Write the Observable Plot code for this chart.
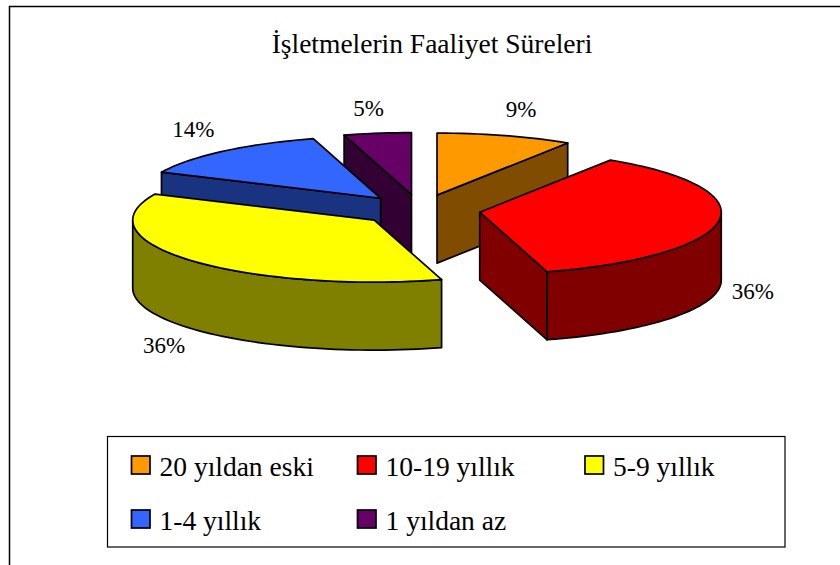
<!DOCTYPE html>
<html>
<head>
<meta charset="utf-8">
<script src="https://cdn.jsdelivr.net/npm/d3@7"></script>
<script src="https://cdn.jsdelivr.net/npm/@observablehq/plot@0.6"></script>
<style>html,body{margin:0;padding:0;background:#fff}svg{display:block}svg text{font-family:"Liberation Serif",serif !important}</style>
</head>
<body>
<div id="chart"></div>
<script>
const title = "İşletmelerin Faaliyet Süreleri";
const categories = ["20 yıldan eski", "10-19 yıllık", "5-9 yıllık", "1-4 yıllık", "1 yıldan az"];
const shares = [9.1, 36.4, 36.4, 13.6, 4.5];
const topColors = ["#ff9900", "#ff0000", "#ffff00", "#3366ff", "#660066"];
const sideColors = ["#804d00", "#800000", "#808000", "#1a3380", "#330033"];

// Layout of the projected pie, in the plot's pixel-like units
const pie = {cx: 419.5, cy: 209.5, rx: 241.5, ry: 62, depth: 68, explode: 0.25};
const drawOrder = [4, 3, 0, 2, 1];
const labelNudge = [[16, -26], [34, 70], [-27, 85], [-30, -22], [-9, -25]];
const font = "Liberation Serif";

const rad = d => d * Math.PI / 180;
const total = d3.sum(shares);
let acc = 0;
const slices = shares.map((v, i) => {
  const a0 = acc / total * 360; acc += v;
  const a1 = acc / total * 360;
  const m = rad((a0 + a1) / 2);
  return {i, v, a0, a1,
    ox: pie.cx + pie.explode * pie.rx * Math.sin(m),
    oy: pie.cy - pie.explode * pie.ry * Math.cos(m), m};
});
const rim = (s, a, drop = 0) => ({
  x: s.ox + pie.rx * Math.sin(rad(a)),
  y: s.oy - pie.ry * Math.cos(rad(a)) + drop
});
const arc = (s, a0, a1, drop = 0) => {
  const n = Math.max(2, Math.ceil((a1 - a0) / 2));
  return d3.range(n + 1).map(k => rim(s, a0 + (a1 - a0) * k / n, drop));
};
const closed = pts => [...pts, pts[0]];
const poly = (pts, fill) => Plot.line(closed(pts), {
  x: "x", y: "y", fill, stroke: "#000", strokeWidth: 1.7, strokeLinejoin: "round", curve: "linear"
});

const marks = [];
// Outer chart frame
marks.push(Plot.ruleX([9], {y1: 6, y2: 565, stroke: "#000", strokeWidth: 1.5}));
marks.push(Plot.ruleY([6], {x1: 9, x2: 840, stroke: "#000", strokeWidth: 1.5}));

for (const idx of drawOrder) {
  const s = slices[idx];
  const apex = {x: s.ox, y: s.oy};
  const apexLow = {x: s.ox, y: s.oy + pie.depth};
  const side = sideColors[idx];
  if (Math.sin(rad(s.a0)) < -1e-6) {
    marks.push(poly([rim(s, s.a0), apex, apexLow, rim(s, s.a0, pie.depth)], side));
  }
  if (Math.sin(rad(s.a1)) > 1e-6) {
    marks.push(poly([rim(s, s.a1), apex, apexLow, rim(s, s.a1, pie.depth)], side));
  }
  const w0 = Math.max(s.a0, 90), w1 = Math.min(s.a1, 270);
  if (w1 > w0) {
    marks.push(poly([...arc(s, w0, w1), ...arc(s, w0, w1, pie.depth).reverse()], side));
  }
  marks.push(poly([apex, ...arc(s, s.a0, s.a1)], topColors[idx]));
}

// Title
marks.push(Plot.text([title], {x: () => 431.5, y: () => 52, text: d => d, fontSize: 27.5, fontFamily: font, fill: "#000", textAnchor: "middle", lineAnchor: "bottom"}));

// Percent labels
const labels = slices.map(s => {
  const p = rim(s, (s.a0 + s.a1) / 2);
  return {x: p.x + labelNudge[s.i][0], y: p.y + labelNudge[s.i][1], text: Math.round(s.v) + "%"};
});
marks.push(Plot.text(labels, {x: "x", y: "y", text: "text", fontSize: 23, fontFamily: font, fill: "#000"}));

// Legend
const legendCols = [131.5, 357.5, 585];
const legendRows = [456, 510];
const legend = categories.map((c, i) => ({
  label: c, fill: topColors[i],
  x: legendCols[i % 3], y: legendRows[Math.floor(i / 3)]
}));
marks.push(Plot.rect([0], {x1: () => 107.5, x2: () => 785, y1: () => 436.5, y2: () => 547, fill: "#fff", stroke: "#000", strokeWidth: 1.2}));
marks.push(Plot.rect(legend, {x1: "x", x2: d => d.x + 18.5, y1: "y", y2: d => d.y + 18, fill: "fill", stroke: "#000", strokeWidth: 1.7}));
marks.push(Plot.text(legend, {x: d => d.x + 27.5, y: d => d.y + 19, text: "label", fontSize: 27.5, fontFamily: font, fill: "#000", textAnchor: "start", lineAnchor: "bottom"}));

const chart = Plot.plot({
  width: 840, height: 565,
  margin: 0,
  x: {domain: [0, 840], range: [0, 840], axis: null},
  y: {domain: [0, 565], range: [0, 565], axis: null},
  color: {type: "identity"},
  style: {background: "#fff", fontFamily: font},
  marks
});
document.getElementById("chart").append(chart);
</script>
</body>
</html>
